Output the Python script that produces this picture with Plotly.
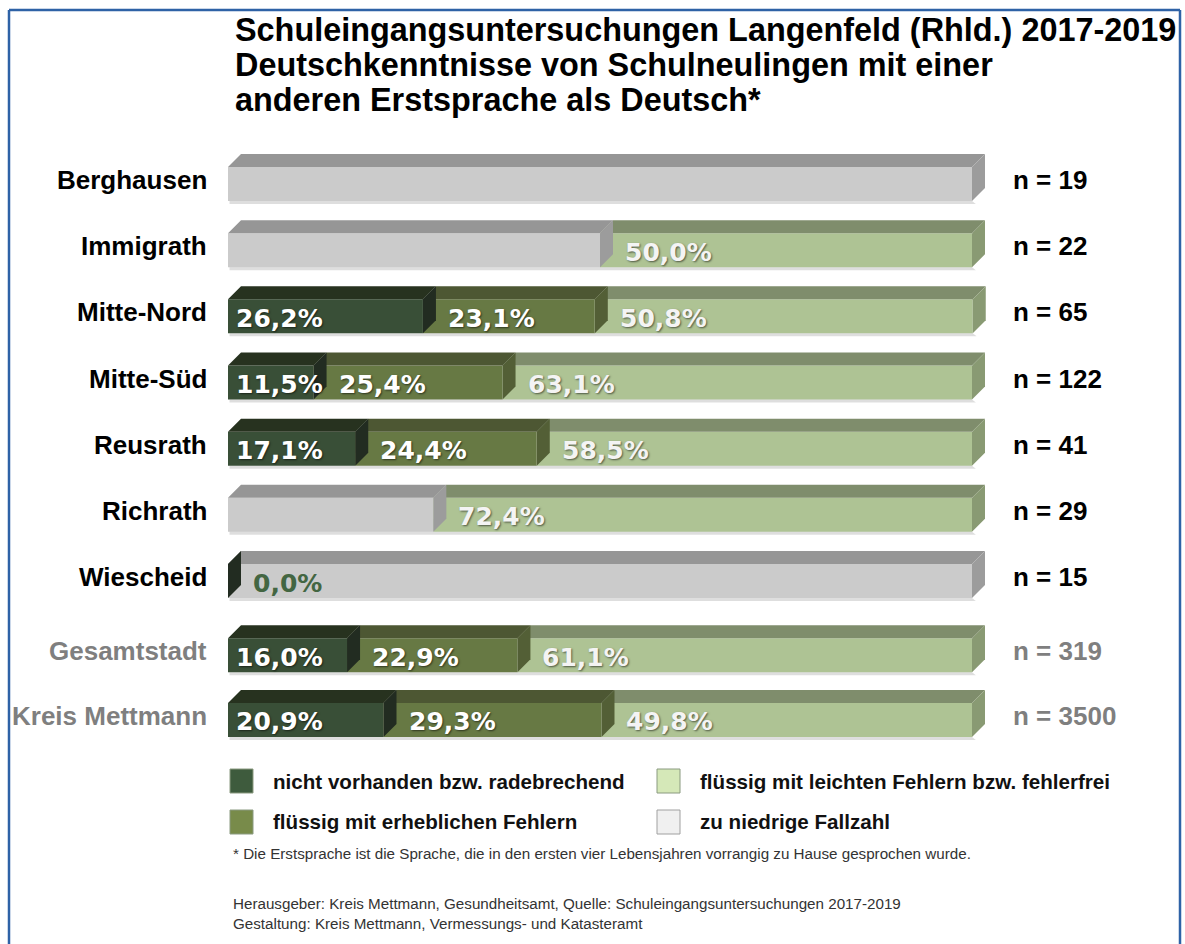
import plotly.graph_objects as go

# ---------------- data ----------------
categories = ["Berghausen", "Immigrath", "Mitte-Nord", "Mitte-Süd", "Reusrath",
              "Richrath", "Wiescheid", "Gesamtstadt", "Kreis Mettmann"]
n_values = [19, 22, 65, 122, 41, 29, 15, 319, 3500]
# None = suppressed (zu niedrige Fallzahl)
nicht_vorhanden = [None, None, 26.2, 11.5, 17.1, None, 0.0, 16.0, 20.9]
erhebliche_fehler = [None, None, 23.1, 25.4, 24.4, None, None, 22.9, 29.3]
leichte_fehler = [None, 50.0, 50.8, 63.1, 58.5, 72.4, None, 61.1, 49.8]

series_names = ["nicht vorhanden bzw. radebrechend",
                "flüssig mit erheblichen Fehlern",
                "flüssig mit leichten Fehlern bzw. fehlerfrei",
                "zu niedrige Fallzahl"]

title_lines = ["Schuleingangsuntersuchungen Langenfeld (Rhld.) 2017-2019",
               "Deutschkenntnisse von Schulneulingen mit einer",
               "anderen Erstsprache als Deutsch*"]
footnotes = ["* Die Erstsprache ist die Sprache, die in den ersten vier Lebensjahren vorrangig zu Hause gesprochen wurde.",
             "Herausgeber: Kreis Mettmann, Gesundheitsamt, Quelle: Schuleingangsuntersuchungen 2017-2019",
             "Gestaltung: Kreis Mettmann, Vermessungs- und Katasteramt"]

# ---------------- layout / style (page pixel coordinates) ----------------
W, H = 1185, 944
PX_PER_X = 7.44                      # pixels per percent
PL, PR, PT, PB = 220, 1180, 140, 744
X0 = -(228 - PL) / PX_PER_X
X1 = X0 + (PR - PL) / PX_PER_X
Y_LOW, Y_HIGH = -0.665, 8.463
PX_PER_Y = (PB - PT) / (Y_HIGH - Y_LOW)
row_pos = [0, 1, 2, 3, 4, 5, 6, 7.12, 8.1]

DX = 13 / PX_PER_X
DY = 13 / PX_PER_Y
BAR_H = 34 / PX_PER_Y
SHADOW = 3 / PX_PER_Y

front_col = ["#394f37", "#677944", "#aec394", "#cbcbcb"]
top_col = ["#27321f", "#4d5733", "#7f8d6c", "#969696"]
side_col = ["#222c21", "#535f36", "#899a73", "#9c9c9c"]
legend_col = ["#3e5b3d", "#788b4a", "#d5e8b8", "#f0f0f0"]
label_col = ["#ffffff", "#ffffff", "#f4f4f4"]


def xp(px):
    return (px - PL) / (PR - PL)


def yp(py):
    return (PB - py) / (PB - PT)


# build segments per row
series_vals = [nicht_vorhanden, erhebliche_fehler, leichte_fehler]
rows = []
for i in range(len(categories)):
    order = []
    for k in range(3):
        v = series_vals[k][i]
        if v is None:
            if not order or order[-1][0] != 3:
                order.append([3, None])
        else:
            order.append([k, v])
    known = sum(v for kk, v in order if kk != 3)
    start = 0.0
    segs = []
    for kk, v in order:
        w = v if kk != 3 else 100.0 - known
        segs.append((kk, start, w))
        start += w
    rows.append(segs)

fig = go.Figure()

# front faces: stacked horizontal bars
for k in range(4):
    xs, bases, ys = [], [], []
    for i, segs in enumerate(rows):
        for kk, s, w in segs:
            if kk == k:
                xs.append(w)
                bases.append(s)
                ys.append(row_pos[i])
    fig.add_trace(go.Bar(x=xs, base=bases, y=ys, orientation="h", width=BAR_H,
                         marker=dict(color=front_col[k], line=dict(width=0)),
                         name=series_names[k], showlegend=False, hoverinfo="skip"))

# soft shadow under each bar
for i, segs in enumerate(rows):
    B = row_pos[i] + BAR_H / 2
    end = segs[-1][1] + segs[-1][2]
    fig.add_trace(go.Scatter(
        x=[0.2, end, end + DX * 0.3, 0.2, 0.2], y=[B, B, B + SHADOW, B + SHADOW, B],
        mode="lines", fill="toself", fillcolor="rgba(0,0,0,0.13)",
        line=dict(width=0), showlegend=False, hoverinfo="skip"))

# 3D faces (top + side), rightmost segment first so left ones overlap
for i, segs in enumerate(rows):
    c = row_pos[i]
    T = c - BAR_H / 2
    B = c + BAR_H / 2
    for kk, s, w in reversed(segs):
        e = s + w
        if w > 0:
            fig.add_trace(go.Scatter(
                x=[s, e, e + DX, s + DX, s], y=[T, T, T - DY, T - DY, T],
                mode="lines", fill="toself", fillcolor=top_col[kk],
                line=dict(width=0), showlegend=False, hoverinfo="skip"))
        fig.add_trace(go.Scatter(
            x=[e, e + DX, e + DX, e, e], y=[T, T - DY, B - DY, B, T],
            mode="lines", fill="toself", fillcolor=side_col[kk],
            line=dict(width=0), showlegend=False, hoverinfo="skip"))

annotations = []
# value labels
for i, segs in enumerate(rows):
    for idx, (kk, s, w) in enumerate(segs):
        if kk == 3:
            continue
        v = series_vals[kk][i]
        txt = f"{v:.1f}".replace(".", ",") + "%"
        off = 6 if (idx == 0 and w > 0) else 23
        if v == 0:
            font = dict(family="DejaVu Sans", size=25, color="#436642", weight="bold")
        else:
            font = dict(family="DejaVu Sans", size=25, color=label_col[kk], weight="bold",
                        shadow="1px 1px 2px rgba(0,0,0,0.55)")
        annotations.append(dict(x=s, xshift=off, y=row_pos[i] + 0.03, xref="x", yref="y",
                                text=txt, showarrow=False, xanchor="left", yanchor="middle",
                                font=font))

# category labels and n labels
for i, cat in enumerate(categories):
    col = "#000000" if i < 7 else "#7f7f7f"
    annotations.append(dict(x=xp(209), y=row_pos[i] - 0.06, xref="paper", yref="y",
                            text=cat, showarrow=False, xanchor="right", yanchor="middle",
                            font=dict(family="Liberation Sans", size=26, color=col, weight="bold")))
    annotations.append(dict(x=xp(1011), y=row_pos[i] - 0.06, xref="paper", yref="y",
                            text=f"n = {n_values[i]}", showarrow=False, xanchor="left",
                            yanchor="middle",
                            font=dict(family="Liberation Sans", size=26, color=col, weight="bold")))

# title
for j, line in enumerate(title_lines):
    annotations.append(dict(x=xp(233), y=yp(30 + 35 * j), xref="paper", yref="paper",
                            text=line, showarrow=False, xanchor="left", yanchor="middle",
                            font=dict(family="Liberation Sans", size=32.4, color="#000000",
                                      weight="bold")))

# legend
shapes = []
legend_items = [(0, 230, 781), (2, 657, 781), (1, 230, 822), (3, 657, 822)]
for k, lx, ly in legend_items:
    border = "#a0a0a0" if k == 3 else "#8a9a80"
    shapes.append(dict(type="rect", xref="paper", yref="paper",
                       x0=xp(lx), x1=xp(lx + 23), y0=yp(ly - 12), y1=yp(ly + 12),
                       fillcolor=legend_col[k], line=dict(color=border, width=1)))
    annotations.append(dict(x=xp(lx + 41), y=yp(ly), xref="paper", yref="paper",
                            text=series_names[k], showarrow=False, xanchor="left",
                            yanchor="middle",
                            font=dict(family="Liberation Sans", size=20.6, color="#111111",
                                      weight="bold")))

# footnotes
for txt, py in zip(footnotes, [853, 903, 923]):
    annotations.append(dict(x=xp(231), y=yp(py), xref="paper", yref="paper",
                            text=txt, showarrow=False, xanchor="left", yanchor="middle",
                            font=dict(family="Liberation Sans Narrow, Arial Narrow, sans-serif",
                                      size=15.2, color="#333333")))

# frame (left, top, right)
frame = dict(color="#2e62a6", width=2.5)
shapes.append(dict(type="line", xref="paper", yref="paper",
                   x0=xp(9), x1=xp(9), y0=yp(10), y1=yp(960), line=frame, layer="above"))
shapes.append(dict(type="line", xref="paper", yref="paper",
                   x0=xp(9), x1=xp(1180), y0=yp(10), y1=yp(10), line=frame, layer="above"))
shapes.append(dict(type="line", xref="paper", yref="paper",
                   x0=xp(1180), x1=xp(1180), y0=yp(10), y1=yp(960), line=frame, layer="above"))

fig.update_layout(
    width=W, height=H,
    margin=dict(l=PL, r=W - PR, t=PT, b=H - PB, pad=0),
    barmode="overlay",
    plot_bgcolor="white", paper_bgcolor="white",
    xaxis=dict(range=[X0, X1], visible=False, fixedrange=True),
    yaxis=dict(range=[Y_HIGH, Y_LOW], visible=False, fixedrange=True),
    annotations=annotations, shapes=shapes,
    showlegend=False,
)

fig.write_html("out.html",
               config={"displayModeBar": False},
               post_script="document.body.style.margin='0px';"
                           "document.body.style.overflow='hidden';")
